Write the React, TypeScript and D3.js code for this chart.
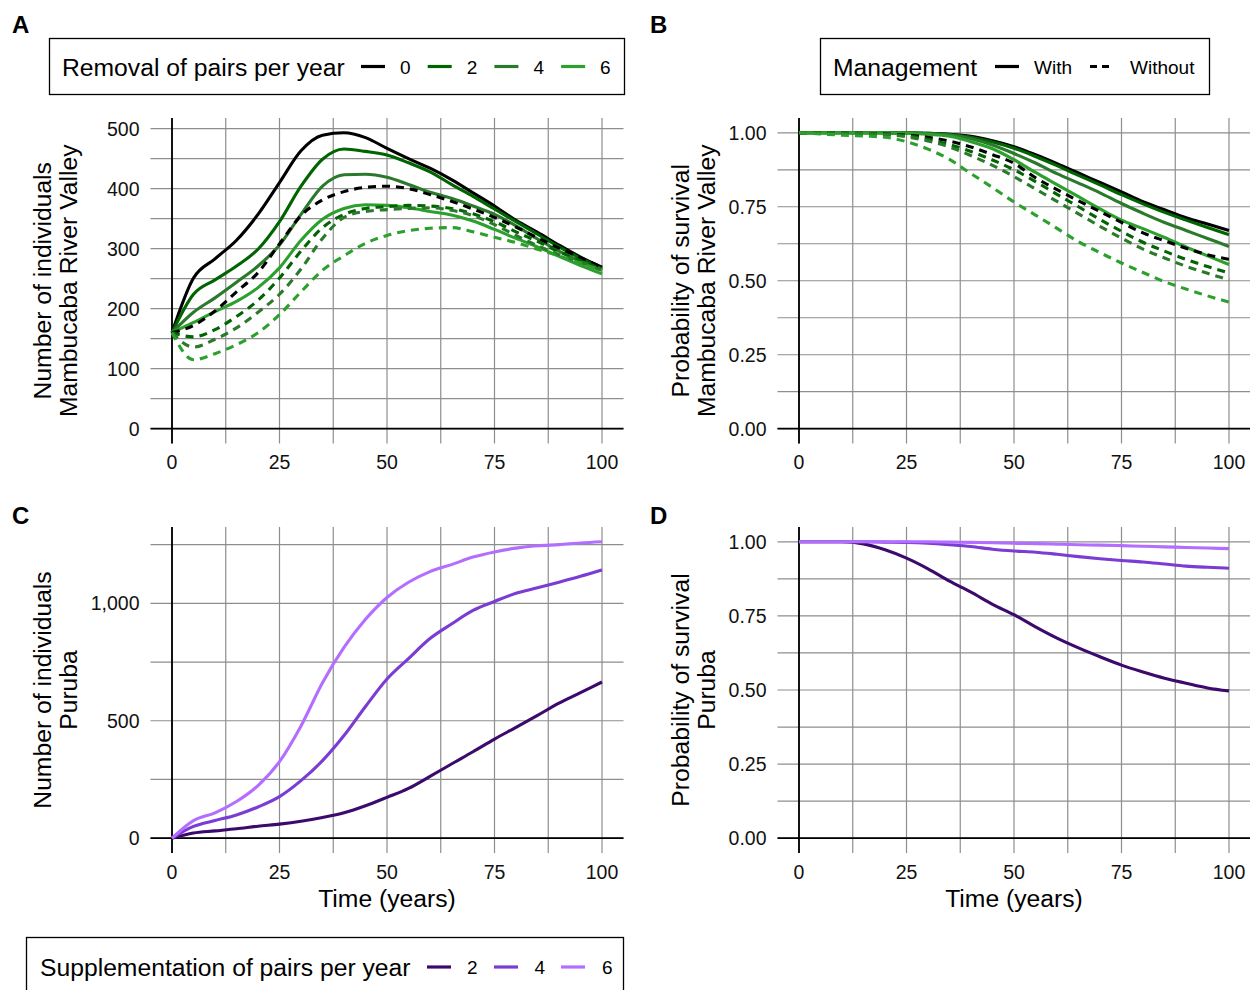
import React from "react";
import * as d3 from "d3";

// Simulation output sampled every 5 years
const years = [0, 5, 10, 15, 20, 25, 30, 35, 40, 45, 50, 55, 60, 65, 70, 75, 80, 85, 90, 95, 100];

const removalLevels = ["0", "2", "4", "6"];
const removalColors = ["#000000", "#006400", "#2b7a2b", "#2ca02c"];
const managementLevels = ["With", "Without"];
const supplementationLevels = ["2", "4", "6"];
const supplementationColors = ["#3c0a6c", "#7a3cd3", "#b46eff"];

const xTicks = [0, 25, 50, 75, 100];
const xGridBreaks = [0, 12.5, 25, 37.5, 50, 62.5, 75, 87.5, 100];
const countTicksMambucaba = [0, 100, 200, 300, 400, 500];
const countGridMambucaba = [0, 50, 100, 150, 200, 250, 300, 350, 400, 450, 500];
const probTicks = [0, 0.25, 0.5, 0.75, 1];
const probGrid = [0, 0.125, 0.25, 0.375, 0.5, 0.625, 0.75, 0.875, 1];
const countTicksPuruba = [0, 500, 1000];
const countGridPuruba = [0, 250, 500, 750, 1000, 1250];

// Mambucaba River Valley: number of individuals, with management (removal 0/2/4/6 pairs per year)
const mambucabaNWith0 = [160, 251, 283, 314, 357, 410, 463, 489, 493, 485, 467, 450, 434, 415, 393, 371, 347, 327, 306, 286, 269];
const mambucabaNWith2 = [160, 224, 248, 271, 299, 345, 404, 449, 466, 462, 456, 443, 428, 407, 387, 366, 345, 324, 303, 284, 266];
const mambucabaNWith4 = [160, 194, 218, 244, 271, 306, 357, 404, 423, 424, 419, 407, 394, 384, 371, 357, 338, 316, 296, 279, 264];
const mambucabaNWith6 = [160, 177, 195, 212, 235, 268, 314, 349, 367, 373, 372, 368, 362, 356, 346, 332, 317, 303, 287, 272, 258];
// ... without management
const mambucabaNWithout0 = [160, 172, 196, 228, 260, 308, 355, 381, 395, 402, 404, 400, 390, 379, 366, 352, 336, 318, 301, 285, 269];
const mambucabaNWithout2 = [160, 153, 165, 187, 214, 251, 296, 335, 357, 367, 370, 372, 371, 367, 358, 345, 328, 312, 295, 280, 266];
const mambucabaNWithout4 = [160, 136, 149, 168, 194, 224, 266, 317, 352, 362, 365, 367, 368, 364, 355, 340, 322, 305, 290, 277, 264];
const mambucabaNWithout6 = [160, 115, 125, 140, 160, 190, 228, 264, 288, 309, 322, 330, 334, 335, 328, 319, 310, 299, 288, 276, 264];

// Mambucaba River Valley: probability of survival
const mambucabaPWith0 = [1, 1, 1, 1, 1, 0.999, 0.998, 0.995, 0.988, 0.973, 0.953, 0.926, 0.896, 0.864, 0.832, 0.8, 0.767, 0.74, 0.713, 0.692, 0.67];
const mambucabaPWith2 = [1, 1, 1, 1, 1, 0.999, 0.998, 0.994, 0.985, 0.969, 0.948, 0.92, 0.889, 0.856, 0.824, 0.791, 0.76, 0.731, 0.705, 0.68, 0.656];
const mambucabaPWith4 = [1, 1, 1, 1, 1, 0.999, 0.997, 0.992, 0.98, 0.959, 0.93, 0.898, 0.862, 0.83, 0.797, 0.761, 0.728, 0.697, 0.67, 0.643, 0.616];
const mambucabaPWith6 = [1, 1, 1, 1, 1, 0.998, 0.995, 0.988, 0.97, 0.946, 0.909, 0.866, 0.825, 0.784, 0.743, 0.705, 0.676, 0.646, 0.614, 0.584, 0.555];
const mambucabaPWithout0 = [1, 1, 0.999, 0.998, 0.996, 0.992, 0.985, 0.972, 0.952, 0.926, 0.897, 0.848, 0.808, 0.77, 0.734, 0.697, 0.662, 0.635, 0.61, 0.588, 0.572];
const mambucabaPWithout2 = [1, 1, 0.999, 0.997, 0.995, 0.99, 0.978, 0.96, 0.937, 0.908, 0.875, 0.835, 0.792, 0.75, 0.707, 0.667, 0.63, 0.6, 0.572, 0.548, 0.526];
const mambucabaPWithout4 = [1, 1, 0.999, 0.997, 0.994, 0.987, 0.972, 0.952, 0.923, 0.89, 0.852, 0.81, 0.768, 0.726, 0.684, 0.644, 0.607, 0.577, 0.549, 0.525, 0.503];
const mambucabaPWithout6 = [1, 0.996, 0.992, 0.989, 0.985, 0.97, 0.945, 0.91, 0.862, 0.815, 0.766, 0.722, 0.677, 0.632, 0.595, 0.56, 0.528, 0.497, 0.472, 0.449, 0.428];

// Puruba: number of individuals (supplementation 2/4/6 pairs per year)
const purubaN2 = [0, 22, 31, 40, 51, 60, 72, 88, 108, 138, 174, 212, 263, 316, 368, 422, 472, 523, 575, 620, 665];
const purubaN4 = [0, 50, 75, 99, 133, 177, 245, 330, 437, 561, 678, 765, 850, 912, 970, 1008, 1043, 1066, 1090, 1115, 1142];
const purubaN6 = [0, 75, 108, 156, 224, 326, 478, 662, 812, 932, 1025, 1090, 1135, 1165, 1197, 1219, 1235, 1245, 1250, 1257, 1262];

// Puruba: probability of survival
const purubaP2 = [1, 1, 1, 0.993, 0.973, 0.945, 0.909, 0.867, 0.83, 0.789, 0.754, 0.713, 0.675, 0.642, 0.612, 0.584, 0.561, 0.54, 0.523, 0.507, 0.497];
const purubaP4 = [1, 1, 1, 1, 0.999, 0.998, 0.995, 0.99, 0.984, 0.975, 0.969, 0.965, 0.958, 0.95, 0.943, 0.937, 0.932, 0.925, 0.918, 0.914, 0.911];
const purubaP6 = [1, 1, 1, 1, 1, 1, 1, 0.999, 0.998, 0.997, 0.995, 0.994, 0.992, 0.99, 0.989, 0.987, 0.985, 0.983, 0.981, 0.979, 0.977];

const FONT = "'Liberation Sans', Arial, Helvetica, sans-serif";
const GRID = "#8e8e8e";
const LINE_W = 3.1;
const DASH = "8 6";
const TITLE_SIZE = 24.7;

type Series = { key: string; values: number[]; color: string; dashed: boolean };

const mambucabaN: Series[] = [
  ...[mambucabaNWith0, mambucabaNWith2, mambucabaNWith4, mambucabaNWith6].map((v, i) => ({ key: `w${i}`, values: v, color: removalColors[i], dashed: false })),
  ...[mambucabaNWithout0, mambucabaNWithout2, mambucabaNWithout4, mambucabaNWithout6].map((v, i) => ({ key: `wo${i}`, values: v, color: removalColors[i], dashed: true })),
];
const mambucabaP: Series[] = [
  ...[mambucabaPWith0, mambucabaPWith2, mambucabaPWith4, mambucabaPWith6].map((v, i) => ({ key: `w${i}`, values: v, color: removalColors[i], dashed: false })),
  ...[mambucabaPWithout0, mambucabaPWithout2, mambucabaPWithout4, mambucabaPWithout6].map((v, i) => ({ key: `wo${i}`, values: v, color: removalColors[i], dashed: true })),
];
const purubaN: Series[] = [purubaN2, purubaN4, purubaN6].map((v, i) => ({ key: `s${i}`, values: v, color: supplementationColors[i], dashed: false }));
const purubaP: Series[] = [purubaP2, purubaP4, purubaP6].map((v, i) => ({ key: `s${i}`, values: v, color: supplementationColors[i], dashed: false }));

type PanelProps = {
  letter: string;
  letterX: number;
  letterY: number;
  xRange: [number, number];
  yRange: [number, number];
  series: Series[];
  yTicks: number[];
  yGrid: number[];
  yFormat: (v: number) => string;
  titleLines: string[];
  titleX: [number, number];
  xTitle: boolean;
};

function Panel(p: PanelProps) {
  const allY = p.series.flatMap((s) => s.values).concat([0]);
  const [ylo, yhi] = d3.extent(allY) as [number, number];
  const ypad = (yhi - ylo) * 0.05;
  const [xlo, xhi] = d3.extent(years) as [number, number];
  const xpad = (xhi - xlo) * 0.05;
  const x = d3.scaleLinear().domain([xlo - xpad, xhi + xpad]).range(p.xRange);
  const y = d3.scaleLinear().domain([ylo - ypad, yhi + ypad]).range([p.yRange[1], p.yRange[0]]);
  const line = d3
    .line<number>()
    .x((_, i) => x(years[i]))
    .y((d) => y(d))
    .curve(d3.curveMonotoneX);
  const [left, right] = p.xRange;
  const [top, bottom] = p.yRange;
  const cy = (top + bottom) / 2;
  const cx = (left + right) / 2;
  return (
    <g>
      <text x={p.letterX} y={p.letterY} fontSize={24} fontWeight="bold" fontFamily={FONT}>
        {p.letter}
      </text>
      {xGridBreaks.map((b) => (
        <line key={`vx${b}`} x1={x(b)} x2={x(b)} y1={top} y2={bottom} stroke={GRID} strokeWidth={1.2} />
      ))}
      {p.yGrid.map((b) => (
        <line key={`hy${b}`} x1={left} x2={right} y1={y(b)} y2={y(b)} stroke={GRID} strokeWidth={1.2} />
      ))}
      <line x1={left} x2={right} y1={y(0)} y2={y(0)} stroke="#000" strokeWidth={1.8} />
      <line x1={x(0)} x2={x(0)} y1={top} y2={bottom} stroke="#000" strokeWidth={1.8} />
      {p.series
        .filter((s) => !s.dashed)
        .map((s) => (
          <path key={s.key} d={line(s.values) || ""} fill="none" stroke={s.color} strokeWidth={LINE_W} strokeLinejoin="round" />
        ))}
      {p.series
        .filter((s) => s.dashed)
        .map((s) => (
          <path key={s.key} d={line(s.values) || ""} fill="none" stroke={s.color} strokeWidth={LINE_W} strokeDasharray={DASH} />
        ))}
      {xTicks.map((t) => (
        <text key={`xt${t}`} x={x(t)} y={bottom + 25.5} fontSize={19.5} textAnchor="middle" fontFamily={FONT} fill="#111">
          {t}
        </text>
      ))}
      {p.yTicks.map((t) => (
        <text key={`yt${t}`} x={left - 11} y={y(t) + 7} fontSize={19.5} textAnchor="end" fontFamily={FONT} fill="#111">
          {p.yFormat(t)}
        </text>
      ))}
      {p.titleLines.map((tl, i) => (
        <text
          key={`tl${i}`}
          transform={`translate(${p.titleX[i]},${cy}) rotate(-90)`}
          fontSize={TITLE_SIZE}
          textAnchor="middle"
          fontFamily={FONT}
          fill="#000"
        >
          {tl}
        </text>
      ))}
      {p.xTitle && (
        <text x={cx} y={bottom + 54} fontSize={TITLE_SIZE} textAnchor="middle" fontFamily={FONT} fill="#000">
          Time (years)
        </text>
      )}
    </g>
  );
}

function KeyLine({ x, y, color, dashed }: { x: number; y: number; color: string; dashed?: boolean }) {
  return <line x1={x} x2={x + 24} y1={y} y2={y} stroke={color} strokeWidth={3.2} strokeDasharray={dashed ? "7 5" : undefined} />;
}

export default function App() {
  const LX: [number, number] = [150.5, 623.5];
  const RX: [number, number] = [777.5, 1250.5];
  const TY: [number, number] = [118, 443.5];
  const BY: [number, number] = [527, 853];
  const fmtInt = d3.format(",");
  const fmtProb = d3.format(".2f");
  return (
    <svg width={1250} height={990} style={{ position: "absolute", left: 0, top: 0, background: "#fff" }} fontFamily={FONT}>
      <rect width={1250} height={990} fill="#fff" />

      {/* Legend: removal */}
      <rect x={49.5} y={38.5} width={575} height={56} fill="none" stroke="#000" strokeWidth={1.3} />
      <text x={62} y={75.5} fontSize={TITLE_SIZE}>Removal of pairs per year</text>
      {removalLevels.map((lv, i) => (
        <g key={lv}>
          <KeyLine x={361 + i * 66.7} y={66.5} color={removalColors[i]} />
          <text x={400 + i * 66.7} y={73.5} fontSize={19}>{lv}</text>
        </g>
      ))}

      {/* Legend: management */}
      <rect x={820.5} y={38.5} width={389} height={56} fill="none" stroke="#000" strokeWidth={1.3} />
      <text x={833} y={75.5} fontSize={TITLE_SIZE}>Management</text>
      {managementLevels.map((lv, i) => (
        <g key={lv}>
          <KeyLine x={995 + i * 95} y={66.5} color="#000" dashed={i === 1} />
          <text x={1034 + i * 96} y={73.5} fontSize={19}>{lv}</text>
        </g>
      ))}

      <Panel
        letter="A" letterX={12} letterY={33}
        xRange={LX} yRange={TY} series={mambucabaN}
        yTicks={countTicksMambucaba} yGrid={countGridMambucaba} yFormat={fmtInt}
        titleLines={["Number of individuals", "Mambucaba River Valley"]} titleX={[51, 77]} xTitle={false}
      />
      <Panel
        letter="B" letterX={650} letterY={33}
        xRange={RX} yRange={TY} series={mambucabaP}
        yTicks={probTicks} yGrid={probGrid} yFormat={fmtProb}
        titleLines={["Probability of survival", "Mambucaba River Valley"]} titleX={[689, 715]} xTitle={false}
      />
      <Panel
        letter="C" letterX={12} letterY={524}
        xRange={LX} yRange={BY} series={purubaN}
        yTicks={countTicksPuruba} yGrid={countGridPuruba} yFormat={fmtInt}
        titleLines={["Number of individuals", "Puruba"]} titleX={[51, 77]} xTitle={true}
      />
      <Panel
        letter="D" letterX={650} letterY={524}
        xRange={RX} yRange={BY} series={purubaP}
        yTicks={probTicks} yGrid={probGrid} yFormat={fmtProb}
        titleLines={["Probability of survival", "Puruba"]} titleX={[689, 715]} xTitle={true}
      />

      {/* Legend: supplementation */}
      <rect x={26.5} y={937.5} width={597} height={70} fill="none" stroke="#000" strokeWidth={1.3} />
      <text x={40} y={975.5} fontSize={TITLE_SIZE}>Supplementation of pairs per year</text>
      {supplementationLevels.map((lv, i) => (
        <g key={lv}>
          <KeyLine x={427 + i * 67} y={967} color={supplementationColors[i]} />
          <text x={467 + i * 67.5} y={974} fontSize={19}>{lv}</text>
        </g>
      ))}
    </svg>
  );
}
